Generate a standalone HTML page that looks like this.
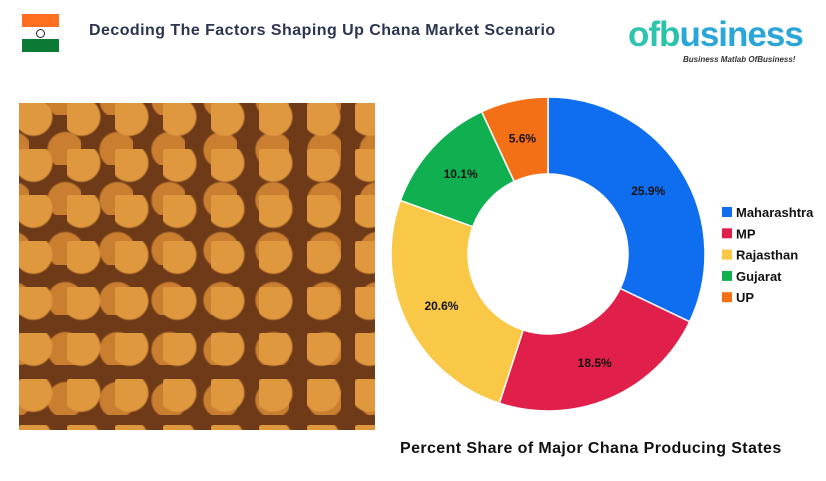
<!DOCTYPE html>
<html><head><meta charset="utf-8"><style>
body{margin:0;width:826px;height:481px;background:#fff;font-family:"Liberation Sans",sans-serif;position:relative;overflow:hidden}
.abs{position:absolute}
#photo{left:19px;top:103px;width:356px;height:327px;background:
radial-gradient(circle at 30% 30%,#e0983f 0 18px,transparent 20px) 0 0/48px 46px,
radial-gradient(circle at 70% 70%,#c97e30 0 17px,transparent 19px) 10px 12px/52px 50px,
#6e3a17}
</style></head><body>
<div class="abs" style="left:22px;top:14px;width:37px;height:38px">
<div style="height:13px;background:#ff6f1f"></div><div style="height:12px;background:#fff;position:relative"><div style="position:absolute;left:14px;top:2px;width:7px;height:7px;border:1px solid #223;border-radius:50%"></div></div><div style="height:13px;background:#0a7a35"></div></div>
<div class="abs" style="left:89px;top:22px;font-size:16px;font-weight:bold;color:#2a3550;letter-spacing:0.45px">Decoding The Factors Shaping Up Chana Market Scenario</div>
<div class="abs" style="left:628px;top:15px;font-size:35px;font-weight:bold;color:#2ec4b0;letter-spacing:-1px">of<span style="color:#28c3a8">b</span><span style="color:#2aa6d8">usiness</span></div>
<div class="abs" style="left:683px;top:55px;font-size:8px;font-style:italic;font-weight:bold;color:#333">Business Matlab OfBusiness!</div>
<div class="abs" id="photo"></div>
<svg class="abs" style="left:0;top:0" width="826" height="481"><g id="g"></g></svg>
<div class="abs" style="left:400px;top:440px;font-size:16px;font-weight:bold;color:#111;letter-spacing:0.4px">Percent Share of Major Chana Producing States</div>
<script>
const categories=["Maharashtra","MP","Rajasthan","Gujarat","UP"];
const values=[25.9,18.5,20.6,10.1,5.6];
const colors=["#0f6ef0","#e0204a","#f8c846","#10b050","#f47016"];
const cx=548,cy=254,R=157,r=80;
const g=document.getElementById('g');const NS="http://www.w3.org/2000/svg";
const tot=values.reduce((a,b)=>a+b,0);let a0=0;
function pt(rad,a){return [cx+rad*Math.sin(a),cy-rad*Math.cos(a)];}
values.forEach((v,i)=>{const a1=a0+v/tot*2*Math.PI;const lg=a1-a0>Math.PI?1:0;
const p1=pt(R,a0),p2=pt(R,a1),p3=pt(r,a1),p4=pt(r,a0);
const p=document.createElementNS(NS,'path');
p.setAttribute('d',`M${p1}A${R},${R} 0 ${lg} 1 ${p2}L${p3}A${r},${r} 0 ${lg} 0 ${p4}Z`);
p.setAttribute('fill',colors[i]);p.setAttribute('stroke','#fff');p.setAttribute('stroke-width','1.5');


g.appendChild(p);
const m=pt((R+r)/2,(a0+a1)/2);const t=document.createElementNS(NS,'text');
t.setAttribute('x',m[0]);t.setAttribute('y',m[1]+4);t.setAttribute('text-anchor','middle');
t.setAttribute('font-size','12');t.setAttribute('font-weight','bold');t.setAttribute('fill','#111');
t.textContent=v.toFixed(1)+'%';


g.appendChild(t);
const s=document.createElementNS(NS,'rect');s.setAttribute('x',722);s.setAttribute('y',207+i*21.3);s.setAttribute('width',10);s.setAttribute('height',10);s.setAttribute('fill',colors[i]);


g.appendChild(s);
const lt=document.createElementNS(NS,'text');lt.setAttribute('x',736);lt.setAttribute('y',217+i*21.3);lt.setAttribute('font-size','13');lt.setAttribute('font-weight','bold');lt.setAttribute('fill','#111');lt.textContent=categories[i];


g.appendChild(lt);
a0=a1;});
</script>
</body></html>
